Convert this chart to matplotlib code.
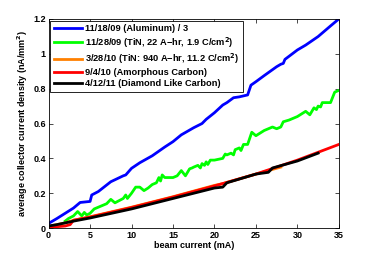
import matplotlib
matplotlib.use("Agg")
import matplotlib.pyplot as plt
import numpy as np

plt.rcParams['font.family'] = ['Liberation Sans', 'DejaVu Sans']
plt.rcParams['font.weight'] = 'bold'
plt.rcParams['mathtext.default'] = 'bf'

# Blue: 11/18/09 (Aluminum) / 3
al_x = [0, 1, 2, 3, 3.8, 5, 5.2, 6, 7.5, 9, 9.3, 10, 11, 12.5, 14, 15, 16, 17.5, 18.5, 19, 20, 21, 21.5, 22.3, 23, 24, 24.4, 25, 26, 27.5, 28, 28.3, 28.5, 30, 31, 32.5, 34, 35]
al_y = [0.027, 0.055, 0.085, 0.115, 0.147, 0.153, 0.19, 0.21, 0.266, 0.30, 0.305, 0.343, 0.375, 0.415, 0.465, 0.496, 0.535, 0.576, 0.60, 0.624, 0.662, 0.706, 0.72, 0.748, 0.753, 0.764, 0.82, 0.84, 0.875, 0.926, 0.94, 0.945, 0.968, 1.022, 1.05, 1.099, 1.16, 1.2]

# Green: 11/28/09 (TiN, 22 A-hr)
tin1_x = [2, 2.4, 3, 3.5, 4, 4.3, 4.6, 5, 5.5, 6.5, 7, 7.5, 8, 9, 9.3, 9.5, 10, 10.5, 11, 11.5, 12, 12.5, 13, 13.3, 13.5, 13.7, 14, 15, 15.5, 16, 16.5, 17, 17.3, 17.5, 18, 18.3, 18.5, 18.8, 19, 19.2, 19.5, 20, 21, 21.3, 21.5, 22, 22.3, 22.5, 23, 23.2, 23.5, 24, 24.5, 25, 26, 27, 27.5, 28, 28.3, 29, 30, 31, 31.5, 32, 32.3, 32.5, 32.8, 33, 34, 34.5, 35]
tin1_y = [0.04, 0.055, 0.07, 0.095, 0.07, 0.09, 0.075, 0.085, 0.11, 0.13, 0.14, 0.165, 0.145, 0.17, 0.19, 0.17, 0.2, 0.235, 0.235, 0.215, 0.23, 0.25, 0.26, 0.29, 0.27, 0.305, 0.29, 0.29, 0.30, 0.33, 0.30, 0.34, 0.345, 0.35, 0.36, 0.345, 0.37, 0.36, 0.38, 0.365, 0.39, 0.39, 0.40, 0.425, 0.42, 0.43, 0.42, 0.45, 0.46, 0.445, 0.48, 0.48, 0.55, 0.53, 0.56, 0.58, 0.57, 0.58, 0.61, 0.62, 0.64, 0.67, 0.65, 0.69, 0.68, 0.70, 0.695, 0.72, 0.72, 0.78, 0.79]

# Orange: 3/28/10 (TiN: 940 A-hr)
tin2_x = [0, 2, 3, 5, 10, 15, 20, 21, 25, 28]
tin2_y = [0.01, 0.03, 0.045, 0.065, 0.12, 0.18, 0.245, 0.255, 0.31, 0.35]

# Red: 9/4/10 (Amorphous Carbon)
ac_x = [0, 1, 2, 2.6, 3, 5, 10, 15, 20, 25, 30, 35]
ac_y = [0.005, 0.008, 0.012, 0.02, 0.045, 0.063, 0.118, 0.178, 0.242, 0.31, 0.39, 0.48]

# Black: 4/12/11 (Diamond Like Carbon)
dlc_x = [0, 1, 3, 5, 10, 15, 20, 21, 21.5, 25, 26.5, 27, 30, 32.5]
dlc_y = [0.012, 0.02, 0.04, 0.058, 0.11, 0.17, 0.23, 0.235, 0.26, 0.31, 0.32, 0.345, 0.385, 0.43]

labels = ["11/18/09 (Aluminum) / 3",
          "11/28/09 (TiN, 22 A\u2212hr, 1.9 C/cm$^2$)",
          "3/28/10 (TiN: 940 A\u2212hr, 11.2 C/cm$^2$)",
          "9/4/10 (Amorphous Carbon)",
          "4/12/11 (Diamond Like Carbon)"]

fig = plt.figure(figsize=(3.74, 2.56), dpi=100)
ax = fig.add_axes([0.130, 0.109, 0.776, 0.817])

lw = 2.0
ax.plot(al_x, al_y, color='#0000ff', lw=lw, label=labels[0])
ax.plot(tin1_x, tin1_y, color='#00ff00', lw=lw, label=labels[1])
ax.plot(tin2_x, tin2_y, color='#ff8000', lw=lw, label=labels[2])
ax.plot(ac_x, ac_y, color='#ff0000', lw=lw, label=labels[3])
ax.plot(dlc_x, dlc_y, color='#000000', lw=lw, label=labels[4])

ax.set_xlim(0, 35)
ax.set_ylim(0, 1.2)
ax.set_xticks([0, 5, 10, 15, 20, 25, 30, 35])
ax.set_yticks([0, 0.2, 0.4, 0.6, 0.8, 1.0, 1.2])
ax.set_yticklabels(['0', '0.2', '0.4', '0.6', '0.8', '1', '1.2'])
ax.tick_params(direction='in', top=True, right=True, labelsize=6.5, length=3, width=0.5, pad=2)
for s in ax.spines.values():
    s.set_linewidth(0.6)
ax.set_xlabel('beam current (mA)', fontsize=6.5, fontweight='bold', labelpad=1)
ax.set_ylabel('average collector current density (nA/mm$^2$)', fontsize=6.5, fontweight='bold', labelpad=2)

leg = ax.legend(loc='upper left', bbox_to_anchor=(0.0, 1.0), fontsize=6.7, frameon=True,
                fancybox=False, edgecolor='black', framealpha=1, borderaxespad=0.2,
                handlelength=3.0, handletextpad=0.4, labelspacing=0.22, borderpad=0.35)
leg.get_frame().set_linewidth(0.6)

fig.savefig('out.png', dpi=100)
